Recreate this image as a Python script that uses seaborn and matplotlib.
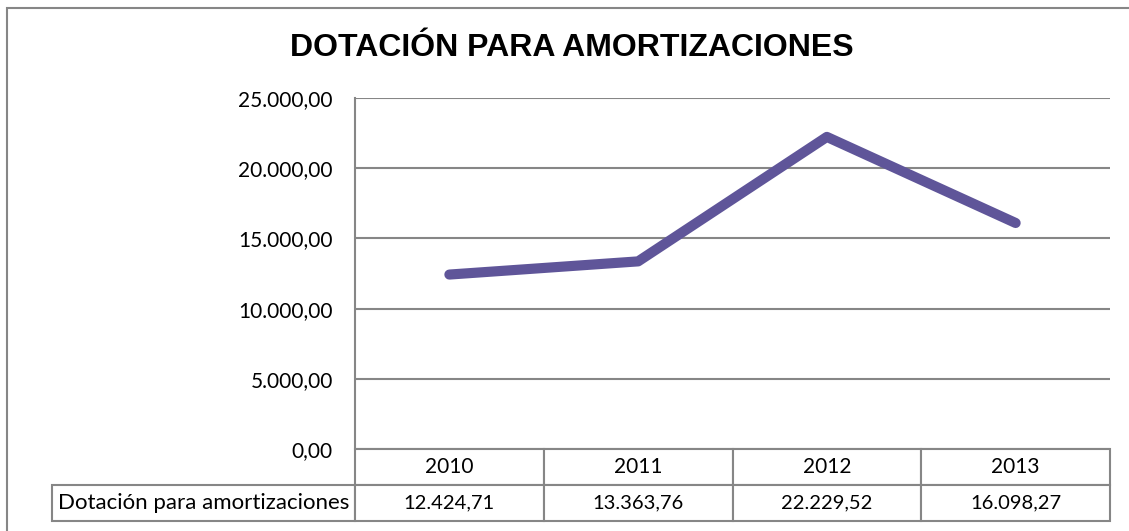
import seaborn as sns
import matplotlib.pyplot as plt
import matplotlib.ticker as mticker
from matplotlib.patches import Rectangle
import pandas as pd

# Dotación para amortizaciones 2010-2013
years = ['2010', '2011', '2012', '2013']
dotacion = [12424.71, 13363.76, 22229.52, 16098.27]
serie = 'Dotación para amortizaciones'

def fmt_es(v, pos=None):
    s = '{:,.2f}'.format(v)
    return s.replace(',', 'X').replace('.', ',').replace('X', '.')

df = pd.DataFrame({'year': years, 'valor': dotacion})

sns.set_style('white')
plt.rcParams['font.family'] = ['Lato', 'DejaVu Sans']
plt.rcParams['text.color'] = 'black'

W, H = 1129, 531
fig = plt.figure(figsize=(W / 100, H / 100), dpi=100)
ax = fig.add_axes([355 / W, (H - 449) / H, 755 / W, 351 / H])

grid_c = '#868686'
line_c = '#5F5599'

# outer chart border
fig.patches.append(Rectangle((7 / W, -0.01), 1.1, (H - 8) / H + 0.01, transform=fig.transFigure,
                             fill=False, edgecolor=grid_c, linewidth=1.5))

sns.lineplot(data=df, x='year', y='valor', sort=False, color=line_c, linewidth=7.3,
             solid_capstyle='round', solid_joinstyle='round', ax=ax, zorder=5)

ax.set_xlim(-0.5, 3.5)
ax.set_ylim(0, 25000)
ax.yaxis.set_major_locator(mticker.MultipleLocator(5000))
ax.yaxis.set_major_formatter(mticker.FuncFormatter(fmt_es))
ax.tick_params(axis='y', labelsize=15, length=0, pad=16, colors='black')
ax.set_xticks([])
ax.set_xlabel('')
ax.set_ylabel('')
ax.grid(axis='y', color=grid_c, linewidth=1.5)
for s in ['top', 'right', 'bottom']:
    ax.spines[s].set_visible(False)
ax.spines['left'].set_color(grid_c)
ax.spines['left'].set_linewidth(1.5)

# data table under the plot; first column holds the series name, left of the axes
lab_w = 303 / 755
row_h = 36 / 351
col_w = [lab_w] + [0.25] * len(years)
tbl = ax.table(cellText=[[serie] + [fmt_es(v) for v in dotacion]], colLabels=[''] + years,
               colWidths=col_w, cellLoc='center',
               bbox=[-lab_w, -2 * row_h, 1 + lab_w, 2 * row_h])
tbl.auto_set_font_size(False)
for (r, c), cell in tbl.get_celld().items():
    cell.set_edgecolor(grid_c)
    cell.set_linewidth(1.5)
    cell.set_text_props(fontsize=15 if r == 0 else 14.5, color='black')
    if c == 0:
        cell.set_text_props(fontsize=16)
        if r == 0:
            cell.set_visible(False)

fig.text(572 / W, 1 - 48 / H, 'DOTACIÓN PARA AMORTIZACIONES', ha='center', va='center',
         fontsize=23, fontweight='bold', color='black',
         family=['Liberation Sans', 'DejaVu Sans'])

fig.savefig('out.png', dpi=100)
